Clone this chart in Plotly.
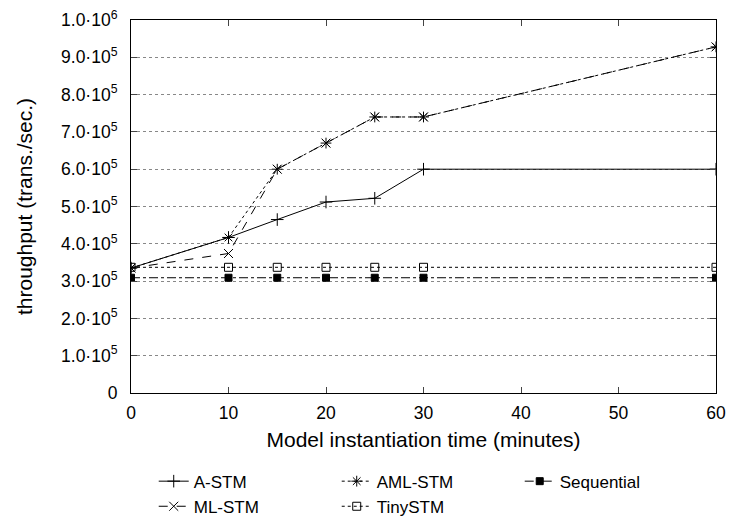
import plotly.graph_objects as go

minutes = [0, 10, 15, 20, 25, 30, 60]
a_stm = [3.35e5, 4.17e5, 4.65e5, 5.12e5, 5.22e5, 6.0e5, 6.0e5]
ml_stm = [3.35e5, 3.74e5, 6.0e5, 6.7e5, 7.4e5, 7.4e5, 9.28e5]
aml_stm = [3.35e5, 4.17e5, 6.0e5, 6.7e5, 7.4e5, 7.4e5, 9.28e5]
tiny_stm = [3.37e5, 3.37e5, 3.37e5, 3.37e5, 3.37e5, 3.37e5, 3.37e5]
sequential = [3.09e5, 3.09e5, 3.09e5, 3.09e5, 3.09e5, 3.09e5, 3.09e5]

y_ticks = [0, 1e5, 2e5, 3e5, 4e5, 5e5, 6e5, 7e5, 8e5, 9e5, 1e6]
y_labels = ["0"] + [f"{i}.0·10<sup>5</sup>" for i in range(1, 10)] + ["1.0·10<sup>6</sup>"]
x_ticks = [0, 10, 20, 30, 40, 50, 60]

FONT = "Liberation Sans, Arial, sans-serif"

fig = go.Figure()
series = [
    ("A-STM", a_stm, "solid", "cross-thin-open", 9, 1),
    ("AML-STM", aml_stm, "dot", "asterisk-open", 9, 2),
    ("Sequential", sequential, "dashdot", "square", 7, 3),
    ("ML-STM", ml_stm, "dash", "x-thin-open", 9, 4),
    ("TinySTM", tiny_stm, "dot", "square-open", 8, 5),
]
for name, vals, dash, sym, size, rank in series:
    fig.add_trace(go.Scatter(
        x=minutes, y=vals, name=name, mode="lines+markers",
        line=dict(color="black", width=1, dash=dash),
        marker=dict(symbol=sym, size=size, color="black",
                    line=dict(color="black", width=1)),
        legendrank=rank,
    ))

fig.update_layout(
    width=732, height=518,
    margin=dict(l=131, r=16, t=20, b=125, autoexpand=False),
    paper_bgcolor="white", plot_bgcolor="white",
    font=dict(family=FONT, size=17.5, color="black"),
    showlegend=True,
    legend=dict(orientation="h", xref="container", yref="container",
                x=0.21, xanchor="left", y=0.105, yanchor="top",
                entrywidth=138, font=dict(size=17), tracegroupgap=0,
                itemwidth=30, bgcolor="rgba(0,0,0,0)"),
)
fig.update_xaxes(
    range=[0, 60], tickvals=x_ticks, ticks="inside", ticklen=6,
    showline=True, linecolor="black", linewidth=1, mirror="ticks",
    showgrid=False, zeroline=False, automargin=False,
    ticklabelstandoff=4,
    title=dict(text="Model instantiation time (minutes)", standoff=10),
)
fig.update_yaxes(
    range=[0, 1e6], tickvals=y_ticks, ticktext=y_labels, ticks="inside", ticklen=6,
    showline=True, linecolor="black", linewidth=1, mirror="ticks",
    showgrid=True, gridcolor="#888888", griddash="dot", gridwidth=1,
    zeroline=False, automargin=False, ticklabelstandoff=9,
    title=dict(text="throughput (trans./sec.)", standoff=22),
)

fig.write_html("out.html")
